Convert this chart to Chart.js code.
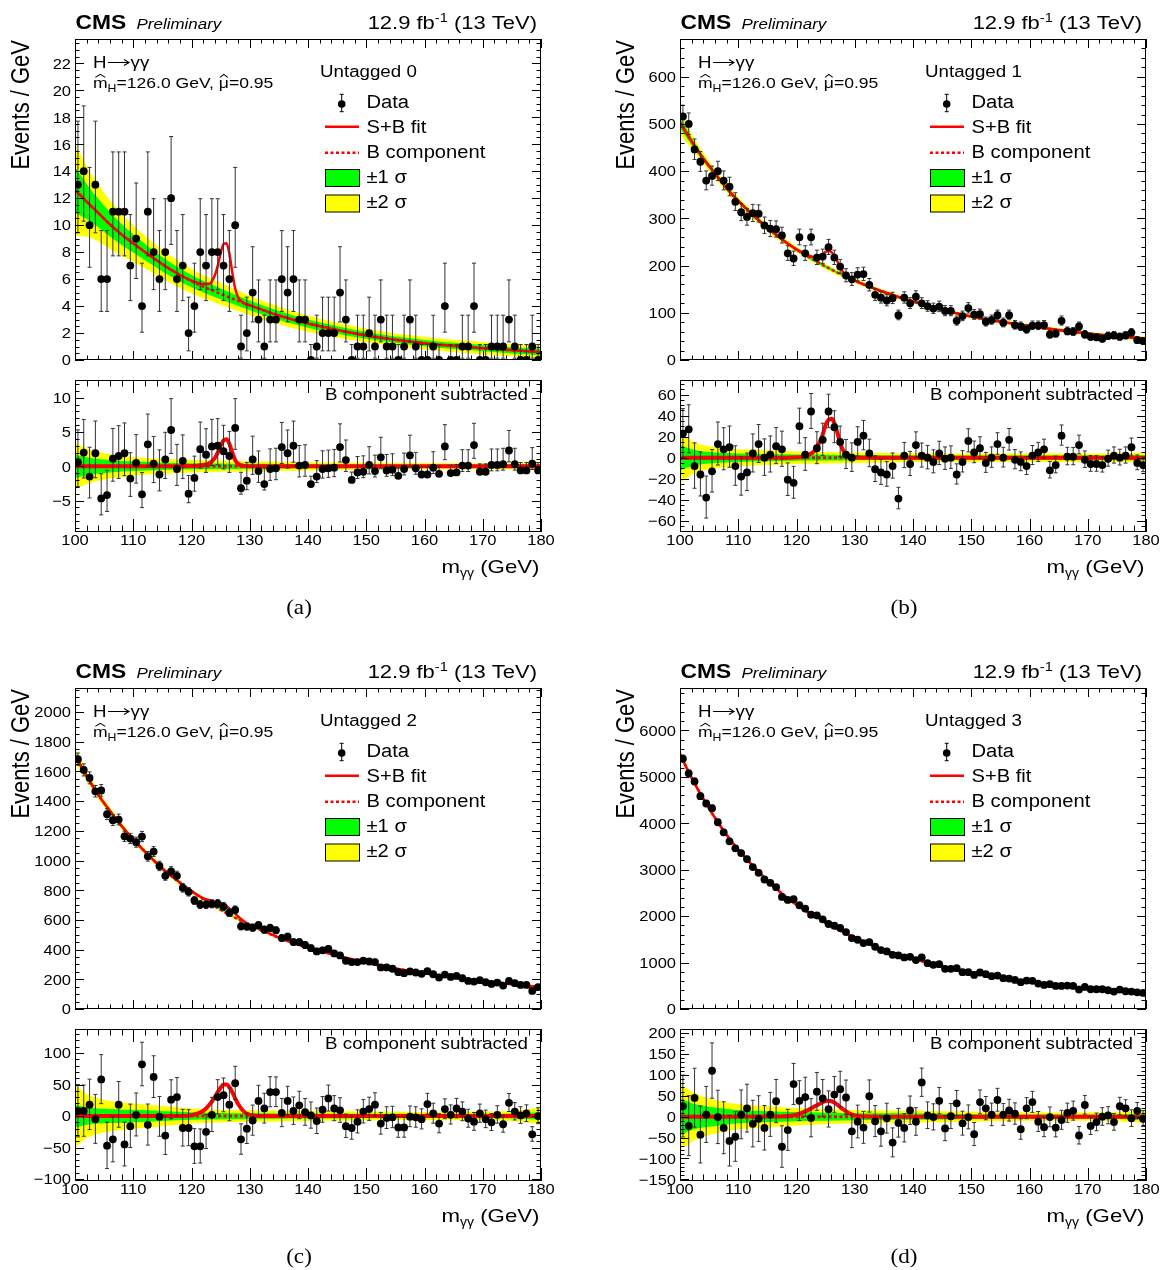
<!DOCTYPE html>
<html>
<head>
<meta charset="utf-8">
<title>H→γγ untagged categories</title>
<script src="https://cdn.jsdelivr.net/npm/chart.js@4.4.1/dist/chart.umd.min.js"></script>
<style>
  html, body { margin: 0; background: #fff; }
  #page { position: relative; width: 1160px; height: 1270px; overflow: hidden; background: #fff; }
  #page canvas { position: absolute; }
</style>
</head>
<body>
<div id="page"></div>
<script>
// ---- data ----
const binCentres = [100.5,101.5,102.5,103.5,104.5,105.5,106.5,107.5,108.5,109.5,
  110.5,111.5,112.5,113.5,114.5,115.5,116.5,117.5,118.5,119.5,
  120.5,121.5,122.5,123.5,124.5,125.5,126.5,127.5,128.5,129.5,
  130.5,131.5,132.5,133.5,134.5,135.5,136.5,137.5,138.5,139.5,
  140.5,141.5,142.5,143.5,144.5,145.5,146.5,147.5,148.5,149.5,
  150.5,151.5,152.5,153.5,154.5,155.5,156.5,157.5,158.5,159.5,
  160.5,161.5,162.5,163.5,164.5,165.5,166.5,167.5,168.5,169.5,
  170.5,171.5,172.5,173.5,174.5,175.5,176.5,177.5,178.5,179.5];

// events / GeV
const countsU0 = [13,14,10,13,6,6,11,11,11,7, 9,4,11,8,6,8,12,6,7,2, 4,8,7,8,8,7,6,10,1,2,
  5,3,1,3,3,6,5,6,3,3, 0,1,2,2,2,5,3,0,1,1, 2,1,3,1,1,0,1,3,1,0, 0,1,0,4,0,0,1,1,4,0, 0,1,1,1,3,1,0,0,1,0];
const countsU1 = [516,500,446,420,380,390,400,380,367,335, 313,303,311,310,285,278,277,264,226,215,
  260,226,260,217,219,239,217,198,179,171, 181,182,159,138,132,126,131,95,132,120,
  134,120,114,109,113,104,104,83,93,110, 96,97,81,85,95,79,95,74,71,65,
  73,73,74,54,56,83,61,60,71,54, 49,48,45,51,52,49,52,58,42,40];
const countsU2 = [1682,1610,1556,1466,1472,1312,1272,1276,1163,1148, 1123,1161,1028,1060,963,897,927,897,816,789,
  731,703,703,708,710,690,649,667,557,555, 548,564,534,546,530,478,487,451,451,431,
  410,388,395,404,374,361,325,316,316,325, 320,316,280,280,271,248,241,253,246,237,
  255,234,212,232,216,223,207,189,185,194, 180,169,178,158,189,174,162,162,122,147];
const countsU3 = [5393,5076,4903,4585,4427,4326,4023,3807,3612,3461, 3360,3230,3057,2934,2790,2718,2624,2415,2350,2365,
  2235,2163,2033,2019,1932,1831,1795,1745,1658,1528, 1492,1420,1442,1341,1269,1240,1168,1154,1110,1125,
  1053,1110,988,952,966,865,865,880,793,793, 735,786,750,707,721,663,656,627,577,613,
  606,548,519,534,497,497,505,497,418,476, 425,425,425,404,375,418,382,375,360,346];

// data minus B component
const residU0 = [0.6,2.0,-1.5,1.9,-4.7,-4.2,1.1,1.5,1.9,-1.8, 0.5,-4.1,3.2,0.4,-1.2,1.0,5.3,-0.4,0.8,-4.0,
  -1.7,2.5,1.7,2.9,3.0,2.2,1.5,5.6,-3.2,-2.1, 1.0,-0.7,-2.6,-0.4,-0.3,2.8,1.9,3.0,0.1,0.2,
  -2.6,-1.5,-0.4,-0.3,-0.2,2.8,0.9,-2.0,-0.9,-0.8, 0.2,-0.7,1.3,-0.6,-0.5,-1.4,-0.4,1.6,-0.3,-1.2,
  -1.2,-0.2,-1.1,2.9,-1.0,-0.9,0.1,0.1,3.1,-0.8, -0.8,0.2,0.2,0.3,2.3,0.3,-0.6,-0.6,0.4,-0.6];
const residU1 = [23,27,-8,-16,-38,-13,13,8,10,-8, -18,-14,4,13,0,3,11,8,-21,-24,
  30,3,44,9,17,44,29,15,3,0, 15,21,4,-11,-14,-16,-8,-39,2,-6,
  12,2,0,-4,4,-1,0,-16,-4,16, 5,9,-5,0,13,0,17,-2,-4,-8,
  2,5,8,-12,-7,21,1,1,12,-2, -6,-6,-7,-1,2,0,2,10,-5,-7];
const residU2 = [8,8,18,-5,58,-47,-37,18,-45,-16, 2,82,-14,62,-1,-31,26,30,-19,-19,
  -48,-48,-25,2,30,33,18,52,-37,-20, -7,24,12,38,38,5,24,8,17,6,
  1,-8,10,28,12,9,-16,-19,-9,7, 11,18,-12,-3,-2,-18,-18,-1,-2,-5,
  19,4,-12,11,2,12,7,-4,-9,4, -5,-10,2,-13,21,7,1,4,-29,0];
const residU3 = [25,-22,45,-43,5,110,-1,-27,-58,-48, 5,20,-17,-5,-27,5,37,-72,-32,78,
  38,47,-3,60,44,18,53,66,46,-35, -12,-26,49,-11,-35,-4,-62,-15,-27,15,
  -12,82,3,-1,38,-28,1,32,-16,-1, -42,35,20,5,40,5,15,7,-30,20,
  35,-12,-25,-1,-26,-8,9,14,-45,28, -22,-13,0,3,-13,25,20,-4,14,-5];

// B component and its uncertainty bands
const bkgX = [100,101,102,104,106,108,110,115,120,125,130,135,140,150,160,170,175,180];
const bkgU0 = [12.6,12.2,11.75,10.9,10.05,9.3,8.65,7.1,5.85,4.9,4.05,3.3,2.7,1.82,1.25,0.88,0.72,0.58];
const bkgU1 = [503,483,463,427,395,364,337,280,234,198,168,144,124,92,72,56,50,45];
const bkgU2 = [1710,1638,1570,1442,1334,1233,1142,946,793,668,565,480,414,312,240,188,169,146];
const bkgU3 = [5490,5233,4978,4525,4120,3752,3432,2765,2242,1850,1533,1270,1080,793,580,455,400,348];
const band1U0 = [1.7,1.5,1.3,1.05,0.9,0.78,0.68,0.53,0.45,0.4,0.36,0.33,0.3,0.25,0.23,0.23,0.23,0.25];
const band2U0 = [3.4,3.0,2.6,2.1,1.8,1.55,1.35,1.05,0.9,0.8,0.72,0.65,0.6,0.5,0.45,0.45,0.45,0.5];
const band1U1 = [12,10,8,6,5,4.5,4,3.5,3,2.8,2.5,2.3,2.1,2,2,2,2.1,2.4];
const band2U1 = [24,20,16,12,10,9,8,7,6,5.5,5,4.5,4.2,4,4,4,4.2,4.8];
const band1U2 = [18,16,14,12,11,10.5,10,8,6,5,4.5,4.2,4,3.5,3.2,3.5,4,6];
const band2U2 = [50,42,35,28,24,22,20,16,12,10,9,8.5,8,7,6.5,7,8,13];
const band1U3 = [44,38,32,26,22,19,16,13,11,9.5,8.5,8,7.5,6,5,5,5.5,7.5];
const band2U3 = [78,70,60,48,40,34,30,25,21,18,16,15,14,12,10,10,11,15];

// S+B fit
const fitX = [100,102,104,106,108,110,115,118,120,121,122,123,124,124.5,125,125.5,126,126.5,127,127.5,128,129,130,132,135,140,150,160,170,180];
const fitU0 = [12.6,11.75,10.9,10.05,9.3,8.65,7.1,6.3,5.88,5.73,5.63,5.65,6.27,6.98,7.9,8.6,8.65,7.9,6.5,5.3,4.65,4.21,4.06,3.75,3.3,2.7,1.82,1.25,0.88,0.58];
const fitU1 = [503,463,427,395,364,337,280,251,234.3,228,222,218,220,224,229,231,228.5,221,209.5,197,186.5,175,168.3,158,144,124,92,72,56,45];
const fitU2 = [1710,1570,1442,1334,1233,1142,946,853,794.5,769,747,734,723,718,713,707,694,677,661,643,623,591,567,535,480,414,312,240,188,146];
const fitU3 = [5490,4978,4525,4120,3752,3432,2765,2435,2247,2166,2092,2021,1954,1923,1887.5,1851,1815,1776,1739,1702,1663,1596,1536,1425,1270,1080,793,580,455,348];

// signal component (S+B fit minus B component)
const sigX = [100,116,118,119,120,121,122,123,124,124.5,125,125.5,126,126.5,127,127.5,128,129,130,131,132,134,180];
const sigU0 = [0,0,0,0,0.03,0.08,0.18,0.4,1.2,2.0,3.0,3.8,3.95,3.3,2.0,0.9,0.35,0.06,0.01,0,0,0,0];
const sigU1 = [0,0,0,0.1,0.3,1,2.5,6,15,22,31,36,37,33,24,14,7,1.5,0.3,0,0,0,0];
const sigU2 = [0,0,0,0.5,1.5,4,8,17,30,38,45,50,50,46,38,28,19,7,2,0.5,0,0,0];
const sigU3 = [0,0.2,1,2.5,5,10,16,24,31,35,37.5,38,37,34,29,23,18,8,3,1,0.3,0,0];
const zeroX = [100, 180];
const zeroY = [0, 0];

const categoryTags = ['Untagged 0', 'Untagged 1', 'Untagged 2', 'Untagged 3'];
const captions = ['(a)', '(b)', '(c)', '(d)'];
const legendLabels = ['Data', 'S+B fit', 'B component', '±1 σ', '±2 σ'];

// ---- drawing helpers ----
const SANS = '"Liberation Sans", Arial, Helvetica, sans-serif';
const SERIF = '"Liberation Serif", "DejaVu Serif", serif';
const SX = 1.17;
const RED = '#ff0000', GREEN = '#00ff00', YELLOW = '#ffff00';

function font(size, o = {}) {
  return `${o.style || 'normal'} ${o.weight || 'normal'} ${size}px ${o.family || SANS}`;
}
function textWidth(ctx, s, size, o = {}) {
  ctx.save();
  ctx.font = font(size, o);
  const w = ctx.measureText(s).width * (o.sx || SX);
  ctx.restore();
  return w;
}
function drawText(ctx, s, x, y, size, o = {}) {
  ctx.save();
  ctx.font = font(size, o);
  ctx.fillStyle = '#000';
  ctx.textAlign = o.align || 'left';
  ctx.textBaseline = 'alphabetic';
  ctx.translate(x, y);
  ctx.scale(o.sx || SX, 1);
  ctx.fillText(s, 0, 0);
  ctx.restore();
}
function drawHat(ctx, cx, yTop, w) {
  const hw = Math.min(w * 0.38, 5);
  ctx.save();
  ctx.strokeStyle = '#000';
  ctx.lineWidth = 1.1;
  ctx.beginPath();
  ctx.moveTo(cx - hw, yTop + 3);
  ctx.lineTo(cx, yTop);
  ctx.lineTo(cx + hw, yTop + 3);
  ctx.stroke();
  ctx.restore();
}
// pieces of text of different sizes on one line
function drawRun(ctx, parts, x, y, align) {
  const widths = parts.map(p => textWidth(ctx, p.t, p.size, p));
  const total = widths.reduce((s, w) => s + w, 0);
  let cx = align === 'right' ? x - total : x;
  parts.forEach((p, i) => {
    drawText(ctx, p.t, cx, y + (p.dy || 0), p.size, p);
    if (p.hat) drawHat(ctx, cx + widths[i] / 2, y - p.size * 0.93, widths[i]);
    cx += widths[i];
  });
}
function tickLabel(v) {
  const r = Math.round(v * 1000) / 1000;
  return r < 0 ? '\u2212' + Math.abs(r) : String(r);
}

// asymmetric poisson interval of a bin count
function poissonErr(n) {
  if (n <= 0) return [0, 1.148];
  return [Math.sqrt(n - 0.25), 1 + Math.sqrt(n + 0.75)];
}

const pts = (xs, ys) => xs.map((x, i) => ({ x, y: ys[i] }));

// ---- plugins ----
const errorBars = {
  id: 'errorBars',
  beforeDatasetDraw(chart, args) {
    const ds = chart.data.datasets[args.index];
    if (!ds.errLo) return;
    const { ctx, chartArea: a, scales: { x, y } } = chart;
    ctx.save();
    ctx.beginPath();
    ctx.rect(a.left, a.top, a.right - a.left, a.bottom - a.top);
    ctx.clip();
    ctx.strokeStyle = '#333';
    ctx.lineWidth = 1;
    ctx.beginPath();
    ds.data.forEach((p, i) => {
      const px = x.getPixelForValue(p.x);
      const y1 = y.getPixelForValue(p.y - ds.errLo[i]);
      const y2 = y.getPixelForValue(p.y + ds.errHi[i]);
      ctx.moveTo(px, y1); ctx.lineTo(px, y2);
      ctx.moveTo(px - 2, y1); ctx.lineTo(px + 2, y1);
      ctx.moveTo(px - 2, y2); ctx.lineTo(px + 2, y2);
    });
    ctx.stroke();
    ctx.restore();
  }
};

function axesPlugin(o) {
  return {
    id: 'rootAxes',
    afterDraw(chart) {
      const { ctx, chartArea: a, scales: { x, y } } = chart;
      const L = a.left, R = a.right, T = a.top, B = a.bottom;
      ctx.save();
      ctx.strokeStyle = '#000';
      ctx.lineWidth = 1;
      ctx.beginPath();
      for (let v = 100; v <= 180; v += 2) {
        const px = Math.round(x.getPixelForValue(v)) + 0.5;
        const len = v % 10 === 0 ? o.xTick : o.xTick / 2;
        ctx.moveTo(px, B); ctx.lineTo(px, B - len);
        ctx.moveTo(px, T); ctx.lineTo(px, T + len);
      }
      const k0 = Math.ceil(o.min / o.minor - 1e-9), k1 = Math.floor(o.max / o.minor + 1e-9);
      for (let k = k0; k <= k1; k++) {
        const v = k * o.minor;
        const major = Math.abs(v / o.major - Math.round(v / o.major)) < 1e-6;
        const py = Math.round(y.getPixelForValue(v)) + 0.5;
        const len = major ? 9 : 4.5;
        ctx.moveTo(L, py); ctx.lineTo(L + len, py);
        ctx.moveTo(R, py); ctx.lineTo(R - len, py);
      }
      ctx.stroke();
      ctx.strokeRect(L + 0.5, T + 0.5, R - L - 1, B - T - 1);
      ctx.restore();

      // y tick labels
      for (let k = k0; k <= k1; k++) {
        const v = k * o.minor;
        if (Math.abs(v / o.major - Math.round(v / o.major)) > 1e-6) continue;
        drawText(ctx, tickLabel(v), L - 4, y.getPixelForValue(v) + 5.3, 15, { align: 'right', sx: 1.1 });
      }
      if (o.xLabels) {
        for (let v = 100; v <= 180; v += 10) {
          drawText(ctx, String(v), x.getPixelForValue(v), B + 13, 15, { align: 'center', sx: 1.1 });
        }
        drawRun(ctx, [
          { t: 'm', size: 19 },
          { t: 'γγ', size: 12, dy: 4 },
          { t: ' (GeV)', size: 19 }
        ], R - 1.5, T + 193, 'right');
        drawText(ctx, o.caption, L + 224, T + 234, 22, { align: 'center', family: SERIF, sx: 1.05 });
        drawText(ctx, 'B component subtracted', R - 13, T + 20, 16, { align: 'right' });
      }
      if (o.main) drawMainTexts(ctx, a, o);
    }
  };
}

function drawMainTexts(ctx, a, o) {
  const L = a.left, R = a.right, T = a.top;
  // header
  drawText(ctx, 'CMS', L + 0.5, T - 9.7, 19.5, { weight: 'bold' });
  drawText(ctx, 'Preliminary', L + 61.5, T - 9.7, 14.5, { style: 'italic' });
  drawRun(ctx, [
    { t: '12.9 fb', size: 18.8 },
    { t: '-1', size: 12.5, dy: -7.5 },
    { t: ' (13 TeV)', size: 18.8 }
  ], R - 4, T - 9.7, 'right');

  // y title
  ctx.save();
  ctx.font = font(22);
  ctx.fillStyle = '#000';
  ctx.textAlign = 'right';
  ctx.translate(29, T + 1);
  ctx.rotate(-Math.PI / 2);
  ctx.scale(1, SX);
  ctx.fillText('Events / GeV', 0, 0);
  ctx.restore();

  // process label, with a long arrow as in the original
  const hx = L + 18, hy = T + 29;
  drawText(ctx, 'H', hx, hy, 16);
  const ax0 = hx + textWidth(ctx, 'H', 16) + 1.5, ax1 = ax0 + 21, ay = hy - 5.5;
  ctx.save();
  ctx.strokeStyle = '#000';
  ctx.lineWidth = 1.1;
  ctx.beginPath();
  ctx.moveTo(ax0, ay); ctx.lineTo(ax1, ay);
  ctx.moveTo(ax1 - 5, ay - 3); ctx.lineTo(ax1, ay); ctx.lineTo(ax1 - 5, ay + 3);
  ctx.stroke();
  ctx.restore();
  drawText(ctx, 'γγ', ax1 + 1.5, hy, 16);

  drawRun(ctx, [
    { t: 'm', size: 15, hat: true },
    { t: 'H', size: 10.5, dy: 3.5 },
    { t: '=126.0 GeV, ', size: 15 },
    { t: 'μ', size: 15, hat: true },
    { t: '=0.95', size: 15 }
  ], L + 18, T + 49.3);

  // legend
  drawText(ctx, o.tag, L + 245, T + 38, 16);
  const lx0 = L + 250, lx1 = L + 284, tx = L + 291.5;
  ctx.save();
  // data marker
  ctx.strokeStyle = '#000';
  ctx.lineWidth = 1;
  ctx.beginPath();
  ctx.moveTo(L + 266.7, T + 55.3); ctx.lineTo(L + 266.7, T + 72.7);
  ctx.moveTo(L + 264.7, T + 55.3); ctx.lineTo(L + 268.7, T + 55.3);
  ctx.moveTo(L + 264.7, T + 72.7); ctx.lineTo(L + 268.7, T + 72.7);
  ctx.stroke();
  ctx.fillStyle = '#000';
  ctx.beginPath(); ctx.arc(L + 266.7, T + 65, 3.8, 0, Math.PI * 2); ctx.fill();
  // fit lines
  ctx.strokeStyle = RED;
  ctx.lineWidth = 2.5;
  ctx.beginPath(); ctx.moveTo(lx0, T + 87.7); ctx.lineTo(lx1, T + 87.7); ctx.stroke();
  ctx.setLineDash([3, 2.5]);
  ctx.beginPath(); ctx.moveTo(lx0, T + 113.7); ctx.lineTo(lx1, T + 113.7); ctx.stroke();
  ctx.setLineDash([]);
  // band boxes
  ctx.lineWidth = 1;
  ctx.strokeStyle = '#000';
  ctx.fillStyle = GREEN;
  ctx.fillRect(lx0, T + 130.5, lx1 - lx0, 17);
  ctx.strokeRect(lx0 + 0.5, T + 130.5, lx1 - lx0, 17);
  ctx.fillStyle = YELLOW;
  ctx.fillRect(lx0, T + 156, lx1 - lx0, 17);
  ctx.strokeRect(lx0 + 0.5, T + 156, lx1 - lx0, 17);
  ctx.restore();
  const ty = [T + 69.3, T + 94.3, T + 119.3, T + 144.3, T + 169.3];
  legendLabels.forEach((s, i) => drawText(ctx, s, tx, ty[i], 18, { sx: 1.12 }));
}

// ---- datasets ----
function curve(data, color, width, dash, order) {
  return { data, borderColor: color, borderWidth: width, borderDash: dash, pointRadius: 0,
    fill: false, cubicInterpolationMode: 'monotone', order };
}
function bandEdge(data, fillTo, color, order) {
  return { data, borderWidth: 0, borderColor: 'rgba(0,0,0,0)', backgroundColor: color,
    pointRadius: 0, fill: fillTo, cubicInterpolationMode: 'monotone', order };
}
function points(data, errs, order) {
  return { data, showLine: false, pointRadius: 3.9, pointHoverRadius: 3.9,
    pointBackgroundColor: '#000', pointBorderWidth: 0, order,
    errLo: errs.map(e => e[0]), errHi: errs.map(e => e[1]) };
}

function makeChart(canvas, datasets, padding, ymin, ymax, axes) {
  return new Chart(canvas, {
    type: 'line',
    data: { datasets },
    options: {
      responsive: false,
      animation: false,
      devicePixelRatio: 1,
      layout: { padding },
      scales: {
        x: { type: 'linear', min: 100, max: 180, display: false },
        y: { type: 'linear', min: ymin, max: ymax, display: false }
      },
      plugins: { legend: { display: false }, tooltip: { enabled: false } }
    },
    plugins: [errorBars, axesPlugin(axes)]
  });
}

function addCanvas(left, top, w, h) {
  const c = document.createElement('canvas');
  c.width = w; c.height = h;
  c.style.left = left + 'px';
  c.style.top = top + 'px';
  document.getElementById('page').appendChild(c);
  return c;
}

const panels = [
  { ox: 0, oy: 0, counts: countsU0, resid: residU0, bkg: bkgU0, b1: band1U0, b2: band2U0, fit: fitU0, sig: sigU0,
    main: { max: 23.8, major: 2, minor: 0.5 }, sub: { min: -9.6, max: 12.6, major: 5, minor: 1 } },
  { ox: 605, oy: 0, counts: countsU1, resid: residU1, bkg: bkgU1, b1: band1U1, b2: band2U1, fit: fitU1, sig: sigU1,
    main: { max: 680, major: 100, minor: 20 }, sub: { min: -70.8, max: 74, major: 20, minor: 5 } },
  { ox: 0, oy: 649, counts: countsU2, resid: residU2, bkg: bkgU2, b1: band1U2, b2: band2U2, fit: fitU2, sig: sigU2,
    main: { max: 2162, major: 200, minor: 50 }, sub: { min: -103, max: 138, major: 50, minor: 10 } },
  { ox: 605, oy: 649, counts: countsU3, resid: residU3, bkg: bkgU3, b1: band1U3, b2: band2U3, fit: fitU3, sig: sigU3,
    main: { max: 6915, major: 1000, minor: 200 }, sub: { min: -154, max: 210, major: 50, minor: 10 } }
];

panels.forEach((p, i) => {
  const errs = p.counts.map(poissonErr);

  const mainSets = [
    points(pts(binCentres, p.counts), errs, 0),
    curve(pts(fitX, p.fit), RED, 2.5, [], 1),
    curve(pts(bkgX, p.bkg), RED, 2.5, [3, 2.5], 2),
    bandEdge(pts(bkgX, p.bkg.map((b, j) => b + p.b1[j])), 4, GREEN, 3),
    bandEdge(pts(bkgX, p.bkg.map((b, j) => b - p.b1[j])), false, GREEN, 3),
    bandEdge(pts(bkgX, p.bkg.map((b, j) => b + p.b2[j])), 6, YELLOW, 5),
    bandEdge(pts(bkgX, p.bkg.map((b, j) => b - p.b2[j])), false, YELLOW, 5)
  ];
  const mainCanvas = addCanvas(p.ox, p.oy, 555, 372);
  makeChart(mainCanvas, mainSets, { left: 75, top: 39, right: 14, bottom: 12 }, 0, p.main.max,
    { main: true, min: 0, max: p.main.max, major: p.main.major, minor: p.main.minor, xTick: 9, tag: categoryTags[i] });

  const subSets = [
    points(pts(binCentres, p.resid), errs, 0),
    curve(pts(sigX, p.sig), RED, 4, [], 1),
    curve(pts(zeroX, zeroY), RED, 3, [3, 2.5], 2),
    bandEdge(pts(bkgX, p.b1), 4, GREEN, 3),
    bandEdge(pts(bkgX, p.b1.map(v => -v)), false, GREEN, 3),
    bandEdge(pts(bkgX, p.b2), 6, YELLOW, 5),
    bandEdge(pts(bkgX, p.b2.map(v => -v)), false, YELLOW, 5)
  ];
  const subCanvas = addCanvas(p.ox, p.oy + 372, 555, 255);
  makeChart(subCanvas, subSets, { left: 75, top: 8, right: 14, bottom: 95 }, p.sub.min, p.sub.max,
    { main: false, xLabels: true, min: p.sub.min, max: p.sub.max, major: p.sub.major, minor: p.sub.minor,
      xTick: 13, caption: captions[i] });
});
</script>
</body>
</html>
